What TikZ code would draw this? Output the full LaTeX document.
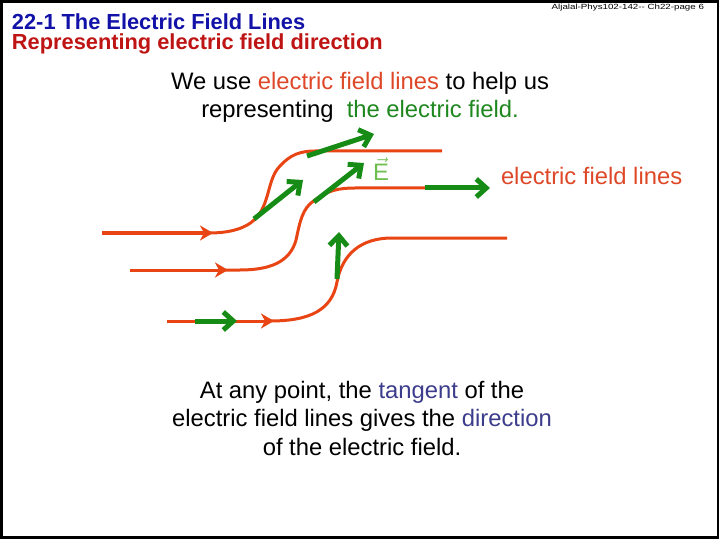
\documentclass[tikz,border=0pt]{standalone}
\usepackage{fontspec}
\setmainfont{Liberation Sans}
\newfontfamily\widefont[FakeStretch=1.3]{Liberation Sans}
\usepackage{tikz}
\usetikzlibrary{positioning, arrows.meta}

\definecolor{titleblue}{RGB}{18,18,168}
\definecolor{titlered}{RGB}{190,20,20}
\definecolor{linered}{RGB}{232,68,20}
\definecolor{arrowgreen}{RGB}{22,140,22}
\definecolor{textred}{RGB}{222,72,40}
\definecolor{textgreen}{RGB}{30,135,30}
\definecolor{textblue}{RGB}{60,60,140}
\definecolor{egreen}{RGB}{110,190,80}

\begin{document}
\begin{tikzpicture}[
    x=1pt, y=-1pt,
    every node/.style={inner sep=0pt, outer sep=0pt},
    body/.style={font=\fontsize{23.8}{28.5}\selectfont, align=center, anchor=base},
    heading/.style={anchor=base west, font=\fontsize{21.8}{24}\selectfont\bfseries},
    fieldline/.style={draw=linered, line width=3pt},
    redtip/.style={fieldline, -{Stealth[length=13pt, width=15pt, inset=4pt]}},
    tangent/.style={draw=arrowgreen, line width=5pt, -{Straight Barb[length=10pt, width=18pt, line width=5pt]}}
]
\useasboundingbox (0,0) rectangle (720,540);
\draw[line width=2.5pt] (1.5,1.5) rectangle (718,537.5);

% headings
\node (title) [heading, text=titleblue] at (12,30) {22-1 The Electric Field Lines};
\node (subtitle) [heading, text=titlered] at (12,50) {Representing electric field direction};
\node (page) [anchor=base east, font=\widefont\fontsize{7.5}{9}\selectfont] at (704,10) {Aljalal-Phys102-142-- Ch22-page 6};

% text
\node (intro) [body] at (360,118) {We use \textcolor{textred}{electric field lines} to help us\\
representing \ \textcolor{textgreen}{the electric field.}};
\node (label) [body, anchor=base west, text=textred] at (501,185) {electric field lines};
\node (evec) [body, anchor=base west, text=egreen] at (373,181) {\(\vec{\mbox{E}}\)};
\node (tangtext) [body] at (362,455) {At any point, the \textcolor{textblue}{tangent} of the\\
electric field lines gives the \textcolor{textblue}{direction}\\
of the electric field.};

% field lines
\draw[redtip] (102,233) -- (213,233);
\draw[fieldline] (209,233) .. controls (235,233) and (250,226) .. (258,216)
    .. controls (270,200) and (268,178) .. (280,166)
    .. controls (290,155) and (300,151) .. (315,151) -- (442,151);
\draw[redtip] (130,270) -- (228,270);
\draw[fieldline] (224,270) -- (240,270) .. controls (270,270) and (290,262) .. (296,240)
    .. controls (300,222) and (302,208) .. (315,200)
    .. controls (328,190) and (340,188) .. (355,188) -- (425,188);
\draw[redtip] (167,321) -- (274,321);
\draw[fieldline] (270,321) .. controls (310,321) and (332,310) .. (337,282)
    .. controls (342,255) and (360,238) .. (392,238) -- (507,238);

% tangent arrows
\draw[tangent] (254,219) -- (303,180);
\draw[tangent] (307,156) -- (374,134);
\draw[tangent] (314,202) -- (364,163);
\draw[tangent] (425,188) -- (490,188);
\draw[tangent] (195,321) -- (237,321);
\draw[tangent] (337,279) -- (339,232);
\end{tikzpicture}
\end{document}
